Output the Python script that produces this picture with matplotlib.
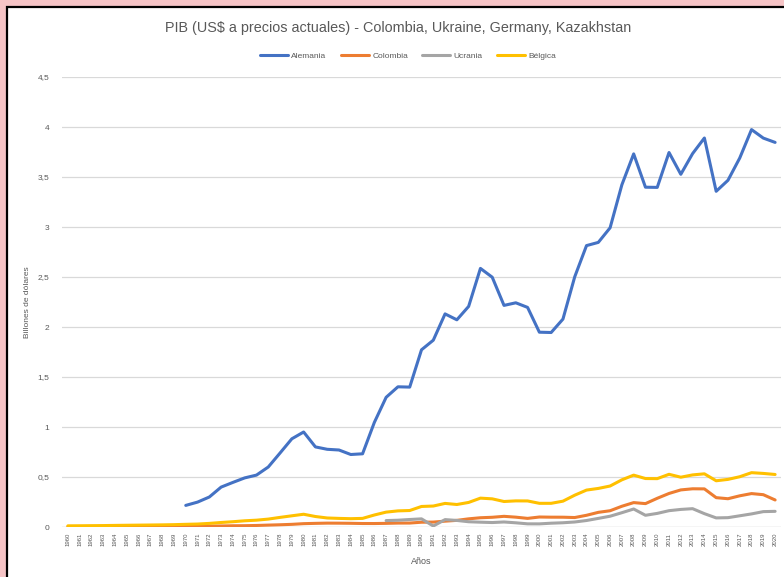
import numpy as np
import matplotlib
matplotlib.use("Agg")
import matplotlib.pyplot as plt
from matplotlib.patches import Rectangle

nan = np.nan
years = list(range(1960, 2021))

alemania = [nan]*10 + [
    0.216, 0.249, 0.300, 0.399, 0.446, 0.491, 0.519, 0.600, 0.740, 0.882,
    0.950, 0.801, 0.777, 0.770, 0.725, 0.732, 1.046, 1.297, 1.402, 1.399,
    1.772, 1.868, 2.131, 2.072, 2.206, 2.586, 2.498, 2.216, 2.242, 2.196,
    1.948, 1.945, 2.079, 2.502, 2.814, 2.846, 2.992, 3.422, 3.731, 3.398,
    3.396, 3.745, 3.527, 3.734, 3.890, 3.357, 3.467, 3.690, 3.974, 3.889,
    3.846]

colombia = [
    0.0040, 0.0045, 0.0049, 0.0041, 0.0052, 0.0051, 0.0052, 0.0051, 0.0052, 0.0054,
    0.0072, 0.0078, 0.0087, 0.0103, 0.0124, 0.0131, 0.0153, 0.0190, 0.0223, 0.0266,
    0.0334, 0.0364, 0.0387, 0.0382, 0.0370, 0.0349, 0.0347, 0.0364, 0.0392, 0.0395,
    0.0478, 0.0492, 0.0584, 0.0664, 0.0817, 0.0925, 0.0972, 0.1067, 0.0984, 0.0862,
    0.0999, 0.0982, 0.0979, 0.0946, 0.1171, 0.1466, 0.1626, 0.2074, 0.2440, 0.2338,
    0.2870, 0.3354, 0.3709, 0.3821, 0.3812, 0.2935, 0.2827, 0.3119, 0.3342, 0.3231,
    0.2703]

ucrania = [nan]*27 + [
    0.0641, 0.0678, 0.0750,
    0.0815, 0.0100, 0.0739, 0.0656, 0.0525, 0.0482, 0.0446, 0.0502, 0.0419, 0.0316,
    0.0313, 0.0380, 0.0424, 0.0501, 0.0649, 0.0861, 0.1078, 0.1430, 0.1800, 0.1172,
    0.1360, 0.1632, 0.1758, 0.1833, 0.1335, 0.0910, 0.0934, 0.1121, 0.1309, 0.1538,
    0.1566]

belgica = [
    0.0117, 0.0124, 0.0133, 0.0143, 0.0160, 0.0174, 0.0187, 0.0200, 0.0214, 0.0234,
    0.0268, 0.0296, 0.0361, 0.0451, 0.0528, 0.0621, 0.0682, 0.0791, 0.0962, 0.1120,
    0.1275, 0.1049, 0.0902, 0.0860, 0.0831, 0.0861, 0.1201, 0.1488, 0.1612, 0.1648,
    0.2053, 0.2096, 0.2359, 0.2250, 0.2456, 0.2886, 0.2816, 0.2550, 0.2612, 0.2606,
    0.2368, 0.2368, 0.2583, 0.3181, 0.3692, 0.3857, 0.4098, 0.4718, 0.5186, 0.4846,
    0.4835, 0.5270, 0.4979, 0.5209, 0.5318, 0.4623, 0.4761, 0.5027, 0.5433, 0.5358,
    0.5252]

series_names = ["Alemania", "Colombia", "Ucrania", "Bélgica"]
title = "PIB (US$ a precios actuales) - Colombia, Ukraine, Germany, Kazakhstan"
yticks = [0, 0.5, 1, 1.5, 2, 2.5, 3, 3.5, 4, 4.5]
ytick_labels = ["0", "0,5", "1", "1,5", "2", "2,5", "3", "3,5", "4", "4,5"]

colors = ["#4472C4", "#ED7D31", "#A5A5A5", "#FFC000"]
txt = "#595959"

plt.rcParams['font.family'] = ['Liberation Sans', 'DejaVu Sans']

W, H = 784, 577
fig = plt.figure(figsize=(W/100, H/100), dpi=100)
fig.patch.set_facecolor("#F6C4C6")
fig.patches.append(Rectangle((7/W, -0.05), 1.1, 1 - 7/H + 0.05,
                             transform=fig.transFigure, facecolor="white",
                             edgecolor="black", linewidth=1.6, zorder=-5))

left, right, top, bottom = 62, 781, 77, 527
ax = fig.add_axes([left/W, 1 - bottom/H, (right-left)/W, (bottom-top)/H])
ax.set_facecolor("none")
ax.set_zorder(2)

x = np.arange(len(years))
order = [alemania, colombia, ucrania, belgica]
for data, name, c in zip(order, series_names, colors):
    ax.plot(x, data, color=c, lw=2.2, label=name, solid_capstyle="round",
            solid_joinstyle="round", zorder=3)

ax.set_xlim(-0.5, len(years) - 0.5)
ax.set_ylim(0, 4.5)
ax.set_yticks(yticks)
ax.set_yticklabels(ytick_labels, fontsize=6, color=txt)
ax.set_xticks(x)
ax.set_xticklabels([str(y) for y in years], rotation=90, fontsize=4.3, color=txt)
ax.tick_params(axis="both", length=0)
ax.tick_params(axis="y", pad=9)
ax.tick_params(axis="x", pad=4)
for s in ax.spines.values():
    s.set_visible(False)
ax.grid(axis="y", color="#D9D9D9", lw=0.9)
ax.axhline(0, color="#D9D9D9", lw=0.9, zorder=1)
ax.set_axisbelow(True)

ax.set_ylabel("Billones de dólares", fontsize=6, color=txt, labelpad=5)
ax.set_xlabel("Años", fontsize=6.5, color=txt, labelpad=8)

fig.text(398/W, 1 - 28/H, title, ha="center", va="center", fontsize=10.4, color=txt)
fig.legend(*ax.get_legend_handles_labels(), loc="center", ncol=4,
           bbox_to_anchor=(408/W, 1 - 56/H), frameon=False, fontsize=6,
           handlelength=3.4, columnspacing=1.7, handletextpad=0.4,
           labelcolor=txt)

fig.savefig("out.png", dpi=100, facecolor=fig.get_facecolor())
